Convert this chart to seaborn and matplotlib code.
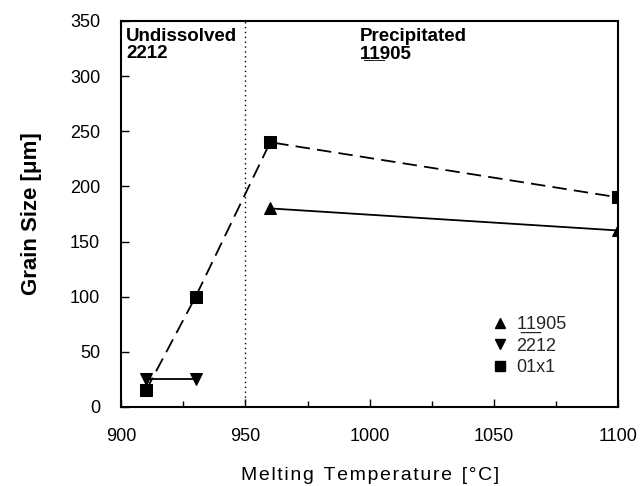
import matplotlib
matplotlib.use("Agg")
import matplotlib.pyplot as plt
from matplotlib.lines import Line2D
from matplotlib.ticker import MultipleLocator
import seaborn as sns
import pandas as pd

sns.set_theme(style="ticks")
plt.rcParams['font.family'] = ['Liberation Sans', 'DejaVu Sans']

# Data
temp_11905 = [960, 1100]
size_11905 = [180, 160]
temp_2212 = [910, 930]
size_2212 = [25, 25]
temp_01x1 = [910, 930, 960, 1100]
size_01x1 = [15, 100, 240, 190]

series_labels = ["1\u03321\u0332905", "2212", "01x1"]
x_ticks = [900, 950, 1000, 1050, 1100]
y_ticks = [0, 50, 100, 150, 200, 250, 300, 350]
boundary_temp = 950

fig = plt.figure(figsize=(6.44, 4.86), dpi=100)
ax = fig.add_axes([0.188, 0.1626, 0.772, 0.7944])

df1 = pd.DataFrame({"T": temp_11905, "G": size_11905})
df2 = pd.DataFrame({"T": temp_2212, "G": size_2212})
df3 = pd.DataFrame({"T": temp_01x1, "G": size_01x1})

sns.lineplot(data=df1, x="T", y="G", ax=ax, color="black", lw=1.3,
             marker="^", markersize=8, markeredgecolor="black", sort=False)
sns.lineplot(data=df2, x="T", y="G", ax=ax, color="black", lw=1.3,
             marker="v", markersize=8, markeredgecolor="black", sort=False)
sns.lineplot(data=df3, x="T", y="G", ax=ax, color="black", lw=1.3,
             marker="s", markersize=8, markeredgecolor="black", sort=False,
             linestyle=(0, (8, 4)))

ax.axvline(boundary_temp, color="black", lw=1.0, linestyle=(0, (1, 2.5)))

ax.set_xlim(900, 1100)
ax.set_ylim(0, 350)
ax.set_xticks(x_ticks)
ax.set_yticks(y_ticks)
ax.xaxis.set_minor_locator(MultipleLocator(25))
ax.tick_params(axis="both", which="both", direction="in", top=False, right=False,
               colors="black", labelsize=13)
ax.tick_params(axis="both", which="major", length=6, width=1)
ax.tick_params(axis="both", which="minor", length=4, width=1)
ax.tick_params(axis="x", which="major", pad=15)
ax.tick_params(axis="y", which="major", pad=15)
for s in ax.spines.values():
    s.set_color("black")
    s.set_linewidth(1.5)

ax.set_xlabel("M e l t i n g   T e m p e r a t u r e   [ ° C ]".replace("   ", "\u2002").replace(" ", "\u200a"),
              fontsize=14, labelpad=16, color="black")
ax.set_ylabel("Grain Size [μm]", fontsize=16, fontweight="bold", labelpad=20, color="black")

ax.text(902, 344, "Undissolved\n2212", fontsize=13.5, fontweight="bold",
        va="top", ha="left", color="black", linespacing=1.05)
ax.text(996, 344, "Precipitated\n1\u03321\u0332905", fontsize=13.5, fontweight="bold",
        va="top", ha="left", color="black", linespacing=1.05)

handles = [
    Line2D([], [], color="black", marker="^", linestyle="none", markersize=7),
    Line2D([], [], color="black", marker="v", linestyle="none", markersize=7),
    Line2D([], [], color="black", marker="s", linestyle="none", markersize=7),
]
ax.legend(handles, series_labels, loc="upper left", bbox_to_anchor=(0.744, 0.236),
          frameon=False, fontsize=13, handletextpad=0.4, labelspacing=0.25,
          handlelength=1.0, borderpad=0, borderaxespad=0)

fig.savefig("out.png", dpi=100)
